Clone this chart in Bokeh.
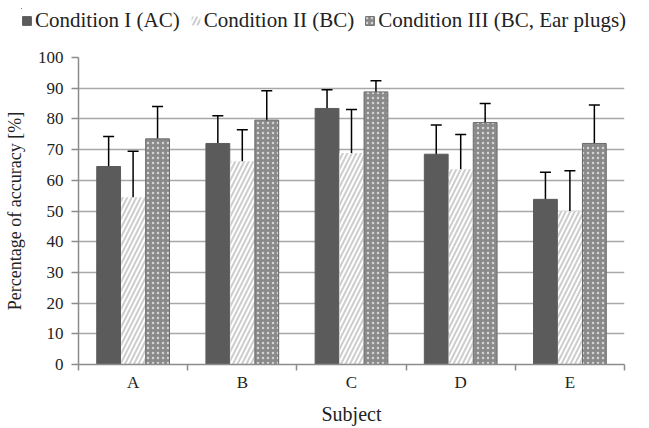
from bokeh.plotting import figure
from bokeh.layouts import column
from bokeh.models import ColumnDataSource, Whisker, TeeHead, FixedTicker, Legend, LegendItem, Range1d
from bokeh.embed import file_html
from bokeh.resources import INLINE

subjects = ["A", "B", "C", "D", "E"]
series = ["Condition I (AC)", "Condition II (BC)", "Condition III (BC, Ear plugs)"]
cond1 = [64.5, 72.0, 83.4, 68.5, 53.8]
cond1_err = [9.8, 9.0, 6.1, 9.5, 8.8]
cond2 = [54.5, 66.2, 68.9, 63.6, 49.9]
cond2_err = [15.0, 10.3, 14.2, 11.3, 13.2]
cond3 = [73.5, 79.6, 88.8, 78.8, 72.0]
cond3_err = [10.5, 9.6, 3.6, 6.2, 12.5]
yticks = [0, 10, 20, 30, 40, 50, 60, 70, 80, 90, 100]

FONT = "Liberation Serif"

p = figure(frame_width=546, frame_height=307, output_backend="svg", toolbar_location=None,
           x_range=Range1d(0, len(subjects)), y_range=Range1d(0, 100))
p.min_border_left = 78
p.min_border_right = 9
p.min_border_top = 17
p.min_border_bottom = 50
p.outline_line_color = None
p.background_fill_color = "white"
p.frame_align = False

# legend strip above the chart (its ranges keep the swatch bars out of view)
lg = figure(width=633, height=40, output_backend="svg", toolbar_location=None,
            x_range=Range1d(100, 101), y_range=Range1d(-2, -1))
lg.min_border_left = 21
lg.min_border_right = 0
lg.min_border_top = 8
lg.min_border_bottom = 0
lg.axis.visible = False
lg.grid.visible = False
lg.outline_line_color = None
lg.frame_align = False

offsets = [-0.224, 0.0, 0.224]
vals = [cond1, cond2, cond3]
errs = [cond1_err, cond2_err, cond3_err]
styles = [
    dict(fill_color="#5b5b5b", line_color="#5b5b5b"),
    dict(fill_color="white", line_color=None, hatch_pattern="/", hatch_color="#cdcdcd",
         hatch_weight=2.0, hatch_scale=9),
    dict(fill_color="#8a8a8a", line_color="#6a6a6a", line_width=1, hatch_pattern="dot",
         hatch_color="#d4d4d4", hatch_weight=2.5, hatch_scale=5),
]

items = []
for k in range(3):
    xs = [i + 0.5 + offsets[k] for i in range(len(subjects))]
    src = ColumnDataSource(dict(x=xs, top=vals[k],
                                upper=[v + e for v, e in zip(vals[k], errs[k])],
                                lower=[v - e for v, e in zip(vals[k], errs[k])]))
    p.vbar(x="x", top="top", bottom=0, width=0.218, source=src, **styles[k])
    w = Whisker(base="x", upper="upper", lower="lower", source=src, dimension="height",
                line_color="black", line_width=1.5,
                upper_head=TeeHead(size=11, line_color="black", line_width=1.5),
                lower_head=TeeHead(size=11, line_color="black", line_width=1.5))
    p.add_layout(w)
    r = lg.vbar(x="x", top="top", bottom=0, width=0.218, source=src, **styles[k])
    items.append(LegendItem(label=series[k], renderers=[r]))

# axes
centers = [i + 0.5 for i in range(len(subjects))]
p.xaxis.ticker = FixedTicker(ticks=centers, minor_ticks=list(range(len(subjects) + 1)))
p.xaxis.major_label_overrides = {c: s for c, s in zip(centers, subjects)}
p.xaxis.major_tick_line_color = None
p.xaxis.major_tick_out = 0
p.xaxis.major_tick_in = 0
p.xaxis.minor_tick_out = 6
p.xaxis.minor_tick_in = 0
p.xaxis.minor_tick_line_color = "#8c8c8c"
p.xaxis.minor_tick_line_width = 1.5
p.xaxis.axis_line_color = "#8c8c8c"
p.xaxis.axis_line_width = 1.5
p.xaxis.axis_label = "Subject"
p.xaxis.major_label_standoff = 2

p.yaxis.ticker = FixedTicker(ticks=yticks)
p.yaxis.major_tick_out = 7
p.yaxis.major_tick_in = 0
p.yaxis.minor_tick_line_color = None
p.yaxis.major_tick_line_color = "#8c8c8c"
p.yaxis.major_tick_line_width = 1.5
p.yaxis.axis_line_color = "#8c8c8c"
p.yaxis.axis_line_width = 1.5
p.yaxis.axis_label = "Percentage of accuracy [%]"
p.yaxis.major_label_standoff = 8

for ax in (p.xaxis[0], p.yaxis[0]):
    ax.major_label_text_font = FONT
    ax.major_label_text_font_size = "17px"
    ax.major_label_text_color = "#222222"
    ax.axis_label_text_font = FONT
    ax.axis_label_text_font_style = "normal"
    ax.axis_label_text_color = "#222222"
p.xaxis.axis_label_text_font_size = "20px"
p.yaxis.axis_label_text_font_size = "18px"
p.xaxis.axis_label_standoff = 8
p.yaxis.axis_label_standoff = 10

p.xgrid.grid_line_color = None
p.ygrid.ticker = FixedTicker(ticks=yticks[1:])
p.ygrid.grid_line_color = "#a8a8a8"
p.ygrid.grid_line_width = 1.6

legend = Legend(items=items, orientation="horizontal", location="top_left",
                label_text_font=FONT, label_text_font_size="21px", label_text_color="#222222",
                glyph_width=11, glyph_height=11, spacing=10, label_standoff=3,
                padding=6, margin=0, border_line_color=None, background_fill_alpha=0)
lg.add_layout(legend, "center")

layout = column(lg, p, spacing=0)
open("out.html", "w").write(file_html(layout, INLINE))
